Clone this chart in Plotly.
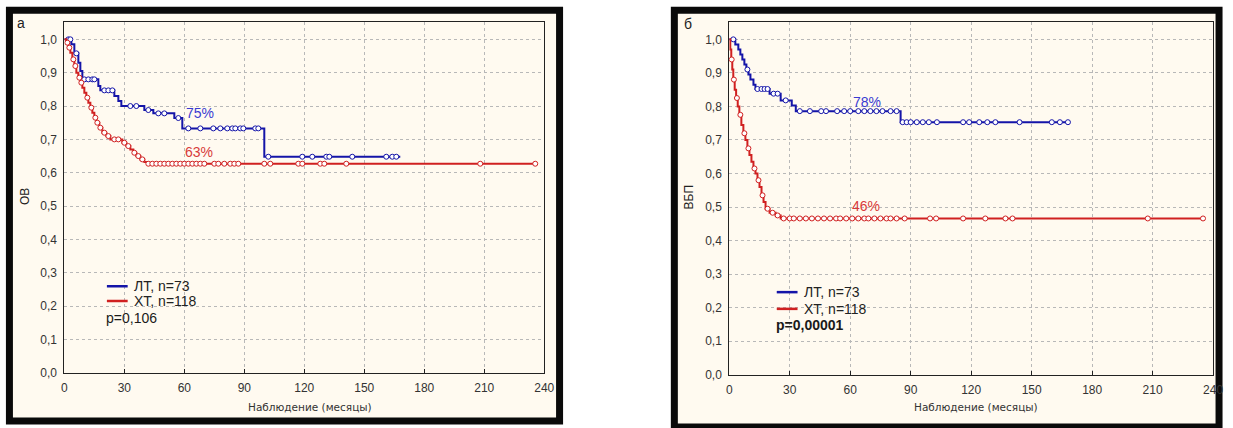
import numpy as np
import plotly.graph_objects as go

W, H = 1233, 428

# ---------------- data ----------------
# Panel а: overall survival (ОВ)
os_lt_t = [0, 3.5, 5, 7, 8, 9, 17, 18, 25, 27, 28.5, 40, 44.5, 55, 59, 100, 168]
os_lt_s = [1.0, 0.985, 0.958, 0.93, 0.905, 0.88, 0.86, 0.847, 0.83, 0.815, 0.80, 0.788, 0.778, 0.764, 0.733, 0.648, 0.648]
os_lt_cens = [2, 3, 6, 10, 12, 14, 15, 20, 22, 24, 33, 36, 42, 47, 50, 57, 62, 68, 74.5, 78, 81.5, 84, 85.5,
              88, 89.5, 95.5, 97, 102, 119, 124, 131, 132.5, 144, 161, 164, 166]

os_xt_t = [0, 1, 2, 3, 4, 5, 6, 7, 8, 9, 10, 11, 12, 13, 14, 15, 16, 17.5, 19, 21, 23, 29, 31, 33, 34.5, 36, 38,
           40, 41.5, 235.5]
os_xt_s = [1.0, 0.99, 0.975, 0.96, 0.94, 0.92, 0.90, 0.885, 0.87, 0.855, 0.84, 0.825, 0.81, 0.795, 0.78, 0.765,
           0.75, 0.735, 0.72, 0.71, 0.70, 0.69, 0.68, 0.67, 0.66, 0.65, 0.64, 0.632, 0.627, 0.627]
os_xt_cens = [1.5, 2.5, 4.5, 5.5, 7.5, 8.5, 11.5, 13.5, 15.5, 16.5, 18, 20, 22, 25, 27, 30, 32, 35, 37, 39, 42,
              44, 46, 48, 50, 52, 54, 56, 58, 60, 62, 64, 66, 68, 70, 75, 77, 80, 83, 85, 87, 100, 103, 117, 119,
              128, 130, 141, 208, 235.5]

# Panel б: progression-free survival (ВБП)
pfs_lt_t = [0, 3, 4.5, 5.5, 6.5, 7.5, 8.5, 9.5, 10.5, 12, 13, 20, 25.5, 31, 33, 85, 168]
pfs_lt_s = [1.0, 0.985, 0.97, 0.955, 0.94, 0.925, 0.91, 0.895, 0.88, 0.865, 0.852, 0.838, 0.818, 0.803, 0.786,
            0.753, 0.753]
pfs_lt_cens = [2, 9, 14, 16, 17.5, 19, 22, 24, 28, 35, 40, 45.6, 48, 53.5, 57, 60, 64, 67, 70, 73, 76, 80, 83,
               86, 88, 90, 93, 96, 99, 103, 116, 119, 124, 128, 132, 144, 160, 164, 168]

pfs_xt_t = [0, 0.5, 1, 1.5, 2, 2.7, 3.4, 4.2, 5, 6, 7, 8, 9, 10, 11, 12, 13, 14, 15, 16, 17, 18, 20, 23, 25.5, 235]
pfs_xt_s = [1.0, 0.97, 0.94, 0.91, 0.88, 0.85, 0.825, 0.80, 0.775, 0.745, 0.72, 0.70, 0.675, 0.655, 0.635, 0.615,
            0.60, 0.58, 0.56, 0.535, 0.515, 0.495, 0.483, 0.475, 0.466, 0.466]
pfs_xt_cens = [1.2, 2.3, 3.8, 5.5, 7.5, 9.5, 12.5, 14.5, 16.5, 19, 21.5, 24, 27, 30, 32, 35, 38, 41, 44, 47, 50,
               53, 55, 58, 61, 64, 67, 69, 72, 75, 78, 80, 83, 87, 99.6, 102.6, 116, 127, 137, 140.5, 207.6, 235]

legend_lt = "ЛТ, n=73"
legend_xt = "ХТ, n=118"
p_os = "p=0,106"
p_pfs = "<b>p=0,00001</b>"
pct_labels = {"os_lt": ("75%", 67.8, 0.778), "os_xt": ("63%", 67.3, 0.662),
              "pfs_lt": ("78%", 68.2, 0.814), "pfs_xt": ("46%", 67.7, 0.502)}

x_ticks = [0, 30, 60, 90, 120, 150, 180, 210, 240]
y_ticks = [0.0, 0.1, 0.2, 0.3, 0.4, 0.5, 0.6, 0.7, 0.8, 0.9, 1.0]
y_tick_text = ["0,0", "0,1", "0,2", "0,3", "0,4", "0,5", "0,6", "0,7", "0,8", "0,9", "1,0"]
top_ticks_a = [8.4, 41.6, 74.8, 107.4, 140.5, 173.7, 207.3]
right_ticks_a = [0.192, 0.383, 0.575, 0.767, 0.959]
top_ticks_b = [9.3, 48.1, 85.9, 124.7, 162.9, 201.2]
right_ticks_b = [0.158, 0.323, 0.487, 0.648, 0.812, 0.971]

BLUE = "#1414a8"
RED = "#d02020"
BLUE_TXT = "#3a3ad2"
RED_TXT = "#d83a3a"
CREAM = "#fffaf0"
FONT = "Liberation Sans, Arial, sans-serif"


def step_at(t, s, c):
    idx = np.searchsorted(np.asarray(t), np.asarray(c), side="right") - 1
    return np.asarray(s)[idx]


def px_x(p):
    return p / W


def px_y(p):
    return 1 - p / H


fig = go.Figure()


def add_curve(t, s, cens, color, name, xa, ya):
    fig.add_trace(go.Scatter(x=t, y=s, mode="lines", line=dict(color=color, width=2, shape="hv"),
                             name=name, xaxis=xa, yaxis=ya, showlegend=False, hoverinfo="skip"))
    fig.add_trace(go.Scatter(x=cens, y=step_at(t, s, cens), mode="markers",
                             marker=dict(symbol="circle", size=5, color="white",
                                         line=dict(color=color, width=1)),
                             name=name + " (цензур.)", xaxis=xa, yaxis=ya, showlegend=False,
                             hoverinfo="skip"))


add_curve(os_lt_t, os_lt_s, os_lt_cens, BLUE, legend_lt, "x", "y")
add_curve(os_xt_t, os_xt_s, os_xt_cens, RED, legend_xt, "x", "y")
add_curve(pfs_lt_t, pfs_lt_s, pfs_lt_cens, BLUE, legend_lt, "x2", "y2")
add_curve(pfs_xt_t, pfs_xt_s, pfs_xt_cens, RED, legend_xt, "x2", "y2")

# plot-area geometry (pixels)
A_L, A_R, A_T, A_B = 62, 547, 22, 379
B_L, B_R, B_T, B_B = 734, 1223, 22, 381
A_YMAX = (A_B - A_T) / 339
B_YMAX = (B_B - B_T) / 341

xa_common = dict(range=[0, 240], tickvals=x_ticks, ticks="inside", ticklen=4, tickcolor="#222",
                 showline=True, linecolor="#222", linewidth=1, mirror=True,
                 showgrid=True, gridcolor="#b8b8b8", griddash="dot", gridwidth=1, zeroline=False,
                 tickfont=dict(family=FONT, size=12, color="#333"), ticklabelstandoff=4)
ya_common = dict(tickvals=y_ticks, ticktext=y_tick_text, ticks="", showline=True, linecolor="#222",
                 linewidth=1, mirror=True, showgrid=True, gridcolor="#b8b8b8", griddash="dot",
                 gridwidth=1, zeroline=False, tickfont=dict(family=FONT, size=12, color="#333"),
                 ticklabelstandoff=4)

sec_x = dict(range=[0, 240], side="top", ticks="inside", ticklen=4, tickcolor="#222",
             showticklabels=False, showgrid=False, showline=False, zeroline=False)
sec_y = dict(side="right", ticks="inside", ticklen=4, tickcolor="#222",
             showticklabels=False, showgrid=False, showline=False, zeroline=False)

fig.update_layout(
    width=W, height=H, margin=dict(l=0, r=0, t=0, b=0),
    paper_bgcolor="white", plot_bgcolor="white", showlegend=False,
    xaxis=dict(domain=[px_x(A_L), px_x(A_R)], anchor="y", **xa_common),
    yaxis=dict(domain=[px_y(A_B), px_y(A_T)], anchor="x", range=[0, A_YMAX], **ya_common),
    xaxis2=dict(domain=[px_x(B_L), px_x(B_R)], anchor="y2", **xa_common),
    yaxis2=dict(domain=[px_y(B_B), px_y(B_T)], anchor="x2", range=[0, B_YMAX], **ya_common),
    xaxis3=dict(overlaying="x", anchor="y", tickvals=top_ticks_a, **sec_x),
    yaxis3=dict(overlaying="y", anchor="x", range=[0, A_YMAX], tickvals=right_ticks_a, **sec_y),
    xaxis4=dict(overlaying="x2", anchor="y2", tickvals=top_ticks_b, **sec_x),
    yaxis4=dict(overlaying="y2", anchor="x2", range=[0, B_YMAX], tickvals=right_ticks_b, **sec_y),
)

# panel frames and legend keys (decoration)
shapes = []
for (x0, x1, y0, y1) in [(6.5, 562.5, 10.5, 428), (678.5, 1229, 10.5, 434)]:
    shapes.append(dict(type="rect", xref="paper", yref="paper", x0=px_x(x0), x1=px_x(x1),
                       y0=px_y(y1), y1=px_y(y0), line=dict(color="#0a0a0a", width=7),
                       fillcolor=CREAM, layer="below"))

legend_pos = [  # (line x0, line x1, text x, y blue, y red, p x, p y, p text)
    (105, 126, 130, 291, 306, 102, 323, p_os),
    (782, 803, 808, 297, 314, 779, 330, p_pfs),
]
ann = []
for lx0, lx1, tx, yb, yr, ppx, ppy, ptxt in legend_pos:
    for yy, col, txt in [(yb, BLUE, legend_lt), (yr, RED, legend_xt)]:
        shapes.append(dict(type="line", xref="paper", yref="paper", x0=px_x(lx0), x1=px_x(lx1),
                           y0=px_y(yy), y1=px_y(yy), line=dict(color=col, width=2.5)))
        ann.append(dict(text=txt, x=px_x(tx), y=px_y(yy), xref="paper", yref="paper", showarrow=False,
                        xanchor="left", yanchor="middle", font=dict(family=FONT, size=14, color="#222")))
    ann.append(dict(text=ptxt, x=px_x(ppx), y=px_y(ppy), xref="paper", yref="paper", showarrow=False,
                    xanchor="left", yanchor="middle", font=dict(family=FONT, size=14, color="#1a1a1a")))
fig.update_layout(shapes=shapes)

# percentage labels
for key, xa, ya, col in [("os_lt", "x", "y", BLUE_TXT), ("os_xt", "x", "y", RED_TXT),
                         ("pfs_lt", "x2", "y2", BLUE_TXT), ("pfs_xt", "x2", "y2", RED_TXT)]:
    txt, xv, yv = pct_labels[key]
    ann.append(dict(text=txt, x=xv, y=yv, xref=xa, yref=ya, showarrow=False, xanchor="center",
                    yanchor="middle", font=dict(family=FONT, size=14, color=col)))
# panel letters
ann.append(dict(text="а", x=px_x(18), y=px_y(23), xref="paper", yref="paper", showarrow=False,
                xanchor="center", yanchor="middle", font=dict(family=FONT, size=14, color="#222")))
ann.append(dict(text="б", x=px_x(692), y=px_y(24), xref="paper", yref="paper", showarrow=False,
                xanchor="center", yanchor="middle", font=dict(family=FONT, size=14, color="#222")))
# axis titles
ann.append(dict(text="ОВ", x=px_x(21.5), y=px_y(200), xref="paper", yref="paper", showarrow=False,
                textangle=-90, xanchor="center", yanchor="middle",
                font=dict(family=FONT, size=12, color="#222")))
ann.append(dict(text="ВБП", x=px_x(693), y=px_y(200), xref="paper", yref="paper", showarrow=False,
                textangle=-90, xanchor="center", yanchor="middle",
                font=dict(family=FONT, size=12, color="#222")))
for cx in (310, 983):
    ann.append(dict(text="Наблюдение (месяцы)", x=px_x(cx), y=px_y(414), xref="paper", yref="paper",
                    showarrow=False, xanchor="center", yanchor="middle",
                    font=dict(family="DejaVu Sans, Verdana, sans-serif", size=10.5, color="#333")))
fig.update_layout(annotations=ann)

fig.write_html("out.html")
